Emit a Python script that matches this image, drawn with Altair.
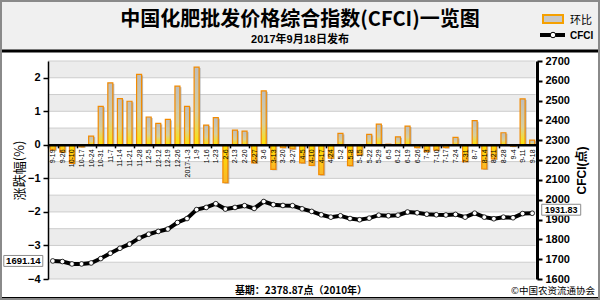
import altair as alt
import pandas as pd

# ---------------- data ----------------
dates = ["9-19", "9-26", "10-10", "10-17", "10-24", "10-31", "11-7", "11-14", "11-21", "11-28",
         "12-5", "12-12", "12-19", "12-26", "2017-1-3", "1-9", "1-16", "1-23", "2-6", "2-13",
         "2-20", "2-27", "3-6", "3-13", "3-20", "3-27", "4-5", "4-10", "4-17", "4-24",
         "5-2", "5-8", "5-15", "5-22", "5-29", "6-5", "6-12", "6-19", "6-26", "7-3",
         "7-10", "7-17", "7-24", "7-31", "8-7", "8-14", "8-21", "8-28", "9-4", "9-11", "9-18"]
changes = [-0.15, -0.22, -0.55, -0.06, 0.26, 1.15, 1.85, 1.38, 1.30, 2.10,
           0.83, 0.64, 0.76, 1.75, 1.15, 2.32, 0.59, 0.81, -1.13, 0.44,
           0.41, -0.54, 1.61, -0.73, -0.08, -0.12, -0.54, -0.61, -0.89, -0.40,
           0.34, -0.62, -0.30, 0.31, 0.62, 0.02, 0.24, 0.56, -0.08, -0.20,
           -0.16, -0.08, 0.22, -0.50, 0.72, -0.72, -0.42, 0.36, -0.04, 1.37, 0.14]
cfci = [1691.14, 1688, 1676, 1676, 1681, 1703, 1730, 1755, 1776, 1806,
        1826, 1840, 1852, 1885, 1905, 1950, 1961, 1980, 1953, 1961,
        1970, 1956, 1991, 1975, 1971, 1970, 1954, 1941, 1924, 1912,
        1919, 1905, 1899, 1907, 1922, 1919, 1922, 1938, 1934, 1927,
        1924, 1923, 1926, 1912, 1932, 1912, 1904, 1912, 1909, 1930, 1931.83]

left_ticks = [-4, -3, -2, -1, 0, 1, 2]
right_ticks = [1600, 1700, 1800, 1900, 2000, 2100, 2200, 2300, 2400, 2500, 2600, 2700]
band_lo = [-4, -3, -2, -1, 0, 1, 2]
band_hi = [-3.5, -2.5, -1.5, -0.5, 0.5, 1.5, 2.5]
grid_lines = [-4, -3.5, -3, -2.5, -2, -1.5, -1, -0.5, 0.5, 1, 1.5, 2, 2.5]

TITLE = "中国化肥批发价格综合指数(CFCI)一览图"
SUBTITLE = "2017年9月18日发布"
LEG_BAR = "环比"
LEG_LINE = "CFCI"
LEFT_TITLE = "涨跌幅(%)"
RIGHT_TITLE = "CFCI(点)"
FOOTER = "基期：2378.87点（2010年）"
SOURCE = "©中国农资流通协会"

# ---------------- layout ----------------
W, H = 489, 218
PAD = {"left": 48, "top": 61, "right": 63, "bottom": 21}
LMIN, LMAX = -4, 2.5
ZERO_OFFSET = -(H - H * LMAX / (LMAX - LMIN))

CJK = "Noto Sans CJK SC"
LAT = "Liberation Sans"

df = pd.DataFrame({"date": dates, "chg": changes, "cfci": cfci})

x_axis = alt.Axis(
    orient="bottom", offset=ZERO_OFFSET, title=None, labelAngle=270,
    labelFont=LAT, labelFontSize=7, labelColor="#000", labelPadding=1,
    labelOverlap=False, labelFlush=False,
    domainColor="#000", domainWidth=2.5,
    tickBand="extent", tickSize=3, tickWidth=1.5,
    tickColor={"condition": {"test": "round(datum.index*50) % 2 == 0", "value": "#000"},
               "value": "transparent"},
    zindex=1,
)
x_enc = alt.X("date:N", sort=dates,
              scale=alt.Scale(domain=dates, paddingInner=0, paddingOuter=0),
              axis=x_axis)

y_left_scale = alt.Scale(domain=[LMIN, LMAX], nice=False)
left_axis = alt.Axis(
    values=left_ticks, title=LEFT_TITLE, titleAngle=270, titleX=-28.5, titleY=H / 2,
    titleAlign="center", titleBaseline="middle", titleFont=CJK, titleFontSize=13,
    titleFontWeight="normal", titleColor="#000",
    labelFont=LAT, labelFontSize=11, labelFontWeight="bold", labelColor="#000",
    labelPadding=3, domainColor="#000", domainWidth=1.5, tickColor="#000",
    tickSize=5, tickWidth=1.5, grid=False, zindex=1,
)

right_axis = alt.Axis(
    orient="right", values=right_ticks, format="d", title=RIGHT_TITLE, titleAngle=270,
    titleX=44, titleY=H / 2, titleAlign="center", titleBaseline="middle",
    titleFont=LAT + ", " + CJK, titleFontSize=12, titleFontWeight="bold", titleColor="#000",
    labelFont=LAT, labelFontSize=11, labelFontWeight="bold", labelColor="#000",
    labelPadding=3, domainColor="#000", domainWidth=3, tickColor="#000",
    tickSize=5, tickWidth=2, grid=False,
)
y_right = alt.Y("cfci:Q", scale=alt.Scale(domain=[1600, 2700], nice=False, zero=False),
                axis=right_axis)
y_chg = alt.Y("chg:Q", scale=y_left_scale, axis=left_axis)

grad_pos = alt.Gradient(gradient="linear", x1=0, x2=0, y1=0, y2=1, stops=[
    alt.GradientStop(color="#bdbdbd", offset=0),
    alt.GradientStop(color="#d6cfa0", offset=0.6),
    alt.GradientStop(color="#ffe400", offset=1)])
grad_neg = alt.Gradient(gradient="linear", x1=0, x2=0, y1=0, y2=1, stops=[
    alt.GradientStop(color="#ffe400", offset=0),
    alt.GradientStop(color="#f9b52a", offset=1)])

# ---------------- decoration ----------------
one = pd.DataFrame({"k": [0]})
header = alt.Chart(one).mark_rect(fill="#f0f0f0").encode(
    x=alt.value(-48), x2=alt.value(552), y=alt.value(-61), y2=alt.value(-11))
head_line = alt.Chart(one).mark_rule(color="#000", strokeWidth=3).encode(
    x=alt.value(-46), x2=alt.value(550), y=alt.value(-10))
foot_line = alt.Chart(one).mark_rule(color="#000", strokeWidth=3).encode(
    x=alt.value(-46), x2=alt.value(550), y=alt.value(237.5))
frame = alt.Chart(one).mark_rect(fill=None, stroke="#8a8a8a", strokeWidth=2).encode(
    x=alt.value(-47), x2=alt.value(551), y=alt.value(-60), y2=alt.value(238))

def label(text, x, y, size, weight="normal", font=CJK, align="center"):
    return alt.Chart(pd.DataFrame({"t": [text]})).mark_text(
        font=font, fontSize=size, fontWeight=weight, color="#000", align=align,
        baseline="alphabetic").encode(x=alt.value(x), y=alt.value(y), text="t:N")

title = label(TITLE, 252, -35, 20, "bold")
subtitle = label(SUBTITLE, 252, -18, 11, "bold", LAT + ", " + CJK)
leg_bar_sw = alt.Chart(one).mark_rect(fill="#c8c8c8", stroke="#f5a000", strokeWidth=2).encode(
    x=alt.value(495), x2=alt.value(515), y=alt.value(-46), y2=alt.value(-38))
leg_bar_tx = label(LEG_BAR, 522, -37, 11, "normal", CJK, "left")
leg_line = alt.Chart(one).mark_rule(color="#000", strokeWidth=4).encode(
    x=alt.value(492), x2=alt.value(517), y=alt.value(-26))
leg_pt = alt.Chart(one).mark_circle(color="white", stroke="#000", strokeWidth=1,
                                     size=30, opacity=1).encode(
    x=alt.value(505), y=alt.value(-26))
leg_line_tx = label(LEG_LINE, 522, -22, 10, "bold", LAT, "left")
footer = label(FOOTER, 253, 233, 10, "bold")
source = label(SOURCE, 547, 233, 9.5, "normal", CJK, "right")

# ---------------- plot ----------------
bands = alt.Chart(pd.DataFrame({"lo": band_lo, "hi": band_hi})).mark_rect(fill="#ececec").encode(
    x=alt.value(0), x2=alt.value(W - 1.5),
    y=alt.Y("lo:Q", scale=y_left_scale, axis=left_axis), y2="hi:Q")
grid = alt.Chart(pd.DataFrame({"g": grid_lines})).mark_rule(color="#cdcdcd", strokeWidth=1).encode(
    x=alt.value(0), x2=alt.value(W - 1.5),
    y=alt.Y("g:Q", scale=y_left_scale, axis=left_axis))

shadow = alt.Chart(df).mark_bar(size=5, color="#a0a0a0", opacity=0.7, xOffset=1.5, yOffset=1).encode(
    x=x_enc, y=y_chg)
bars_pos = alt.Chart(df).transform_filter("datum.chg >= 0").mark_bar(
    size=5, fill=grad_pos, stroke="#f28a00", strokeWidth=1.2).encode(x=x_enc, y=y_chg)
bars_neg = alt.Chart(df).transform_filter("datum.chg < 0").mark_bar(
    size=5, fill=grad_neg, stroke="#f28a00", strokeWidth=1.2).encode(x=x_enc, y=y_chg)

left_group = alt.layer(header, head_line, foot_line, frame, title, subtitle,
                       leg_bar_sw, leg_bar_tx, leg_line, leg_pt, leg_line_tx,
                       footer, source, bands, grid, shadow, bars_pos, bars_neg)

line = alt.Chart(df).mark_line(color="#000", strokeWidth=4).encode(x=x_enc, y=y_right)
pts = alt.Chart(df).mark_circle(color="white", stroke="#000", strokeWidth=0.8, size=22,
                                opacity=1).encode(x=x_enc, y=y_right)

BOX = "M-1,-0.28L1,-0.28L1,0.28L-1,0.28Z"
first = df.iloc[[0]]
last = df.iloc[[-1]]
box_l = alt.Chart(first).mark_point(shape=BOX, size=1521, filled=True, fill="white",
                                    stroke="#8c8c8c", strokeWidth=1, opacity=1,
                                    xOffset=-29.5).encode(x=x_enc, y=y_right)
txt_l = alt.Chart(first).mark_text(font=LAT, fontSize=9.5, fontWeight="bold", color="#000",
                                   dx=-29.5).encode(
    x=x_enc, y=y_right, text=alt.Text("cfci:Q", format=".2f"))
box_r = alt.Chart(last).mark_point(shape=BOX, size=1521, filled=True, fill="white",
                                   stroke="#8c8c8c", strokeWidth=1, opacity=1,
                                   xOffset=29, yOffset=-3.5).encode(x=x_enc, y=y_right)
txt_r = alt.Chart(last).mark_text(font=LAT, fontSize=9, fontWeight="bold", color="#000",
                                  dx=29, dy=-3.5).encode(
    x=x_enc, y=y_right, text=alt.Text("cfci:Q", format=".2f"))

right_group = alt.layer(line, pts, box_l, txt_l, box_r, txt_r)

chart = alt.layer(left_group, right_group).resolve_scale(y="independent").properties(
    width=W, height=H, padding=PAD, autosize=alt.AutoSizeParams(type="none"),
    background="white",
).configure_view(stroke=None)

chart.save("out.html", embed_options={"renderer": "svg", "actions": False})
